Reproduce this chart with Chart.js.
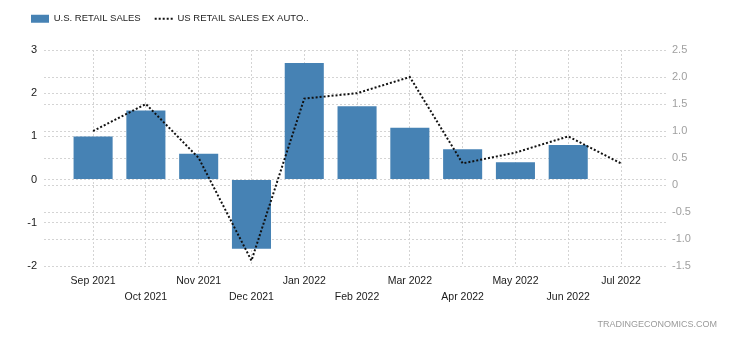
<!DOCTYPE html>
<html lang="en">
<head>
  <meta charset="UTF-8" />
  <title>U.S. Retail Sales</title>
  <script src="https://cdn.jsdelivr.net/npm/chart.js"></script>
  <style>
    * { margin: 0; padding: 0; box-sizing: border-box; }
    body { background: #fff; width: 730px; height: 340px; overflow: hidden; }
    .wrap { position: relative; width: 730px; height: 340px; }
    .credit {
      position: absolute;
      right: 13px;
      top: 319px;
      font: 9px 'Liberation Sans', Arial, sans-serif;
      color: #9a9a9a;
    }
  </style>
</head>
<body>
  <div class="wrap">
    <canvas id="salesChart" width="730" height="340"></canvas>
    <div class="credit">TRADINGECONOMICS.COM</div>
  </div>

  <script>
    // months shown on the x axis
    const months = ['Sep 2021', 'Oct 2021', 'Nov 2021', 'Dec 2021', 'Jan 2022', 'Feb 2022',
                    'Mar 2022', 'Apr 2022', 'May 2022', 'Jun 2022', 'Jul 2022'];
    // U.S. retail sales MoM % (left axis)
    const retailSales = [1.0, 1.6, 0.6, -1.6, 2.7, 1.7, 1.2, 0.7, 0.4, 0.8, 0.0];
    // retail sales ex autos MoM % (right axis)
    const exAutos = [1.0, 1.5, 0.5, -1.4, 1.6, 1.7, 2.0, 0.4, 0.6, 0.9, 0.4];

    const gridColor = '#d4d4d4';
    const font = { family: "'Liberation Sans', Arial, sans-serif", size: 9.5 };

    // push the plot down a bit below the legend
    const legendGap = {
      id: 'legendGap',
      beforeInit(chart) {
        const fit = chart.legend.fit;
        chart.legend.fit = function () {
          fit.call(this);
          this.height += 16.5;
        };
      }
    };

    const ctx = document.getElementById('salesChart').getContext('2d');
    const chart = new Chart(ctx, {
      data: {
        datasets: [
          {
            type: 'bar',
            label: 'U.S. RETAIL SALES',
            data: retailSales.map((v, i) => ({ x: i, y: v })),
            backgroundColor: '#4682b4',
            borderWidth: 0,
            barPercentage: 0.74,
            categoryPercentage: 1,
            pointStyle: 'rect',
            yAxisID: 'y',
            order: 2
          },
          {
            type: 'line',
            label: 'US RETAIL SALES EX AUTO..',
            data: exAutos.map((v, i) => ({ x: i, y: v })),
            borderColor: '#111',
            backgroundColor: '#111',
            borderWidth: 2,
            borderDash: [2, 2],
            pointRadius: 0,
            pointStyle: 'line',
            tension: 0,
            yAxisID: 'y1',
            order: 1
          }
        ]
      },
      options: {
        responsive: false,
        animation: false,
        layout: { padding: { left: 17, right: 0, top: 0, bottom: 0 } },
        plugins: {
          legend: {
            align: 'start',
            labels: {
              usePointStyle: true,
              pointStyleWidth: 18,
              boxHeight: 8,
              padding: 14,
              color: '#222',
              font: font,
              sort: (a, b) => a.datasetIndex - b.datasetIndex,
              generateLabels: chart => {
                const items = Chart.defaults.plugins.legend.labels.generateLabels(chart);
                items.forEach(item => {
                  if (item.datasetIndex === 1) {
                    item.lineDash = [2, 2];
                    item.lineWidth = 2;
                    item.strokeStyle = '#111';
                  }
                });
                return items;
              }
            }
          },
          tooltip: { enabled: false }
        },
        scales: {
          x: {
            type: 'linear',
            offset: false,
            min: -0.93,
            max: 10.89,
            afterBuildTicks: axis => {
              axis.ticks = months.map((m, i) => ({ value: i }));
            },
            afterFit: axis => { axis.height = 74; },
            ticks: {
              autoSkip: false,
              maxRotation: 0,
              padding: 7,
              color: '#1a1a1a',
              font: { family: font.family, size: 10.5, lineHeight: 1.55 },
              callback: (v) => {
                const label = months[v];
                return v % 2 ? ['', label] : label;
              }
            },
            grid: { color: gridColor, drawTicks: false, offset: false },
            border: { display: false, dash: [2, 2] }
          },
          y: {
            position: 'left',
            min: -2,
            max: 3,
            afterFit: axis => { axis.width = 27; },
            ticks: { stepSize: 1, padding: 7, color: '#1a1a1a', font: { family: font.family, size: 11 } },
            grid: { color: gridColor, drawTicks: false },
            border: { display: false, dash: [2, 2] }
          },
          y1: {
            position: 'right',
            min: -1.5,
            max: 2.5,
            afterFit: axis => { axis.width = 62; },
            ticks: { stepSize: 0.5, padding: 4, color: '#a0a0a0', font: { family: font.family, size: 11 } },
            grid: { color: gridColor, drawTicks: false },
            border: { display: false, dash: [2, 2] }
          }
        }
      },
      plugins: [legendGap]
    });
  </script>
</body>
</html>
